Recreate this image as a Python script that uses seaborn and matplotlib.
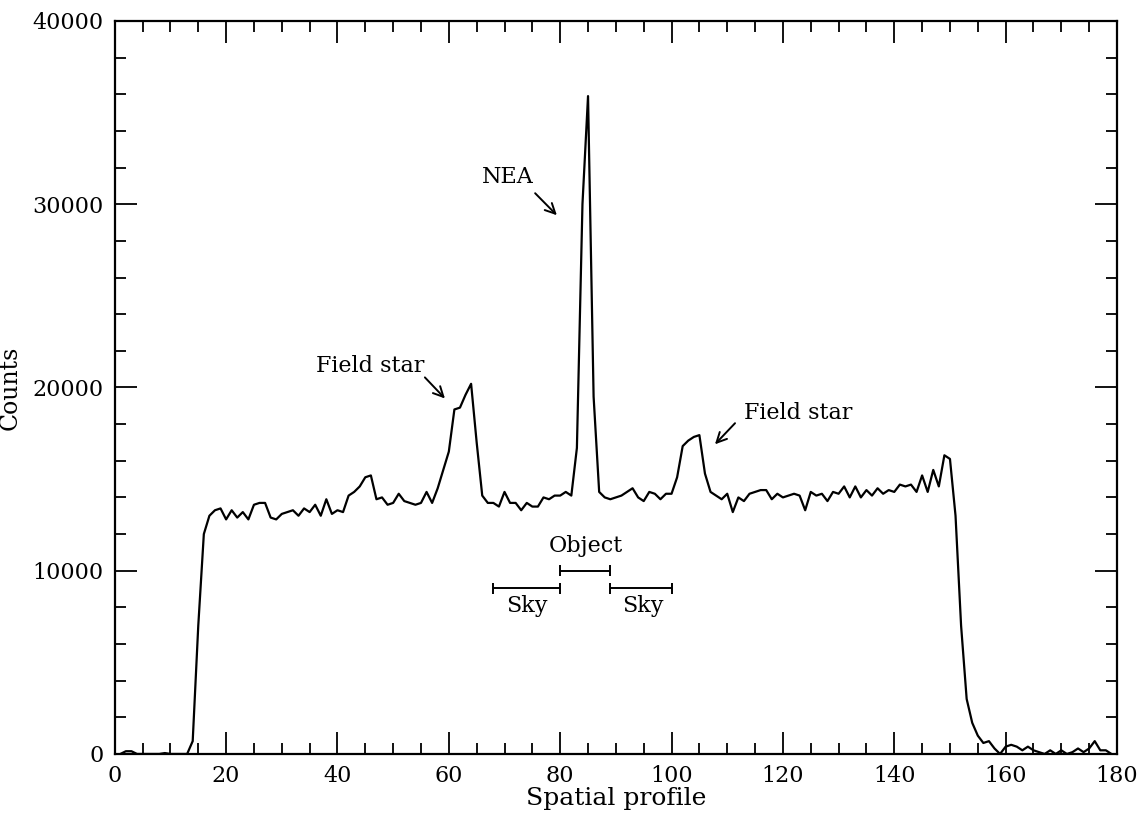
import numpy as np
import pandas as pd
import matplotlib
matplotlib.use("Agg")
import matplotlib.pyplot as plt
import seaborn as sns

# ---- data ----
pixel = list(range(1, 180))
counts = [
    0, 150, 150, 0, 0, 0, 0, 0, 50, 0,                      # 1-10
    0, 0, 0, 700, 7000, 12000, 13000, 13300, 13400, 12800,  # 11-20
    13300, 12900, 13200, 12800, 13600, 13700, 13700, 12900, 12800, 13100,  # 21-30
    13200, 13300, 13000, 13400, 13200, 13600, 13000, 13900, 13100, 13300,  # 31-40
    13200, 14100, 14300, 14600, 15100, 15200, 13900, 14000, 13600, 13700,  # 41-50
    14200, 13800, 13700, 13600, 13700, 14300, 13700, 14500, 15500, 16500,  # 51-60
    18800, 18900, 19600, 20200, 17000, 14100, 13700, 13700, 13500, 14300,  # 61-70
    13700, 13700, 13300, 13700, 13500, 13500, 14000, 13900, 14100, 14100,  # 71-80
    14300, 14100, 16700, 30000, 35900, 19500, 14300, 14000, 13900, 14000,  # 81-90
    14100, 14300, 14500, 14000, 13800, 14300, 14200, 13900, 14200, 14200,  # 91-100
    15100, 16800, 17100, 17300, 17400, 15300, 14300, 14100, 13900, 14200,  # 101-110
    13200, 14000, 13800, 14200, 14300, 14400, 14400, 13900, 14200, 14000,  # 111-120
    14100, 14200, 14100, 13300, 14300, 14100, 14200, 13800, 14300, 14200,  # 121-130
    14600, 14000, 14600, 14000, 14400, 14100, 14500, 14200, 14400, 14300,  # 131-140
    14700, 14600, 14700, 14300, 15200, 14300, 15500, 14600, 16300, 16100,  # 141-150
    13000, 7000, 3000, 1700, 1000, 600, 700, 300, 0, 400,   # 151-160
    500, 400, 200, 400, 200, 100, 0, 200, 0, 200,           # 161-170
    0, 100, 300, 100, 300, 700, 200, 200, 0,                # 171-179
]

sky_left = (68, 80)
object_band = (80, 89)
sky_right = (89, 100)

xticks_major = list(range(0, 181, 20))
yticks_major = list(range(0, 40001, 10000))

df = pd.DataFrame({"Spatial profile": pixel, "Counts": counts})

# ---- style ----
sns.set_theme(style="ticks")
plt.rcParams["font.family"] = ["DejaVu Serif"]
plt.rcParams["text.color"] = "black"
plt.rcParams["axes.labelcolor"] = "black"

fig = plt.figure(figsize=(11.44, 8.19), dpi=100)
ax = fig.add_axes([0.1003, 0.0794, 0.8761, 0.8950])

sns.lineplot(data=df, x="Spatial profile", y="Counts", ax=ax,
             color="black", linewidth=1.6)

ax.set_xlim(0, 180)
ax.set_ylim(0, 40000)
ax.set_xticks(xticks_major)
ax.set_yticks(yticks_major)
ax.set_xticks(range(0, 181, 5), minor=True)
ax.set_yticks(range(0, 40001, 2000), minor=True)

for s in ax.spines.values():
    s.set_linewidth(1.6)
    s.set_color("black")
    s.set_visible(True)

ax.tick_params(which="major", direction="in", length=16, width=1.3,
               top=True, right=True, labelsize=16, colors="black", pad=8)
ax.tick_params(which="minor", direction="in", length=8, width=1.3,
               top=True, right=True, colors="black")

ax.set_xlabel("Spatial profile", fontsize=18, labelpad=0, color="black")
ax.set_ylabel("Counts", fontsize=17, labelpad=8, color="black")

# ---- annotations ----
txt_kw = dict(fontsize=16, ha="center", va="center", color="black")
arrow_kw = dict(arrowstyle="->", lw=1.4, color="black", mutation_scale=18,
                shrinkA=0, shrinkB=0)

ax.text(45.9, 21150, "Field star", **txt_kw)
ax.annotate("", xy=(59.3, 19400), xytext=(55.7, 20550), arrowprops=arrow_kw)

ax.text(70.6, 31480, "NEA", **txt_kw)
ax.annotate("", xy=(79.4, 29400), xytext=(75.5, 30600), arrowprops=arrow_kw)

ax.text(122.8, 18600, "Field star", **txt_kw)
ax.annotate("", xy=(107.8, 16900), xytext=(111.4, 18050), arrowprops=arrow_kw)

# Object / Sky bands
band_y_obj = 10000
band_y_sky = 9050
cap = 300
for (a, b), yy in [(object_band, band_y_obj), (sky_left, band_y_sky), (sky_right, band_y_sky)]:
    ax.hlines(yy, a, b, color="black", lw=1.4)
    ax.vlines([a, b], yy - cap, yy + cap, color="black", lw=1.4)

ax.text(84.7, 11350, "Object", **txt_kw)
ax.text(74.0, 8050, "Sky", **txt_kw)
ax.text(94.8, 8050, "Sky", **txt_kw)

fig.savefig("out.png", dpi=100, facecolor="white")
